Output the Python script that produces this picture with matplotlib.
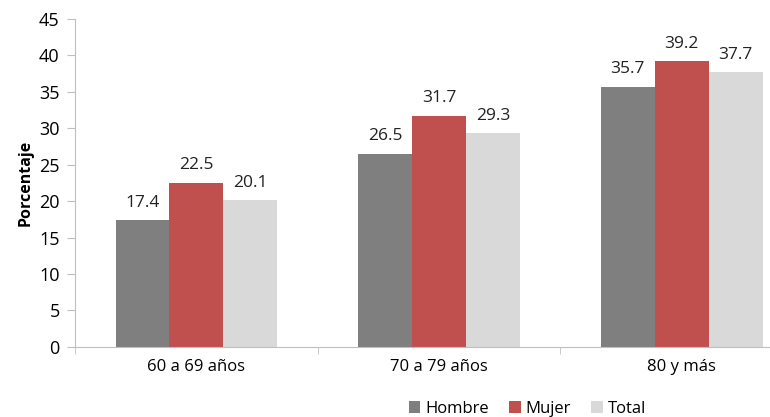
import matplotlib.pyplot as plt
import numpy as np

categorias = ['60 a 69 años', '70 a 79 años', '80 y más']
hombre = [17.4, 26.5, 35.7]
mujer = [22.5, 31.7, 39.2]
total = [20.1, 29.3, 37.7]
series = ['Hombre', 'Mujer', 'Total']
colores = ['#7f7f7f', '#c0504d', '#d9d9d9']

plt.rcParams['font.family'] = ['Open Sans', 'DejaVu Sans']

fig = plt.figure(figsize=(7.7, 4.17), dpi=100)
ax = fig.add_axes([0.0974, 0.168, 0.9455, 0.7866])

x = np.arange(len(categorias))
w = 0.222
for i, (vals, nombre, col) in enumerate(zip([hombre, mujer, total], series, colores)):
    pos = x + (i - 1) * w
    ax.bar(pos, vals, w, color=col, label=nombre)
    for p, v in zip(pos, vals):
        ax.text(p, v + 1.3, f'{v:.1f}', ha='center', va='bottom', fontsize=12.5, color='#222222')

ax.set_xlim(-0.5, 2.5)
ax.set_ylim(0, 45)
ax.set_yticks(range(0, 46, 5))
ax.set_xticks(x)
ax.set_xticklabels(categorias)
ax.set_xticks(np.arange(-0.5, 3, 1), minor=True)
ax.tick_params(axis='x', which='major', length=0, pad=9, labelsize=12)
ax.tick_params(axis='x', which='minor', length=5, color='#bfbfbf')
ax.tick_params(axis='y', length=6, color='#bfbfbf', labelsize=13, pad=5)

for s in ['top', 'right']:
    ax.spines[s].set_visible(False)
ax.spines['left'].set_color('#bfbfbf')
ax.spines['bottom'].set_color('#bfbfbf')

ax.set_ylabel('Porcentaje', fontsize=11.5, fontweight='bold', labelpad=4)

fig.legend(loc='lower center', bbox_to_anchor=(0.685, -0.035), ncol=3, frameon=False,
           fontsize=12, handlelength=0.7, handleheight=0.7, handletextpad=0.3, columnspacing=1.2)

fig.savefig('out.png', dpi=100)
